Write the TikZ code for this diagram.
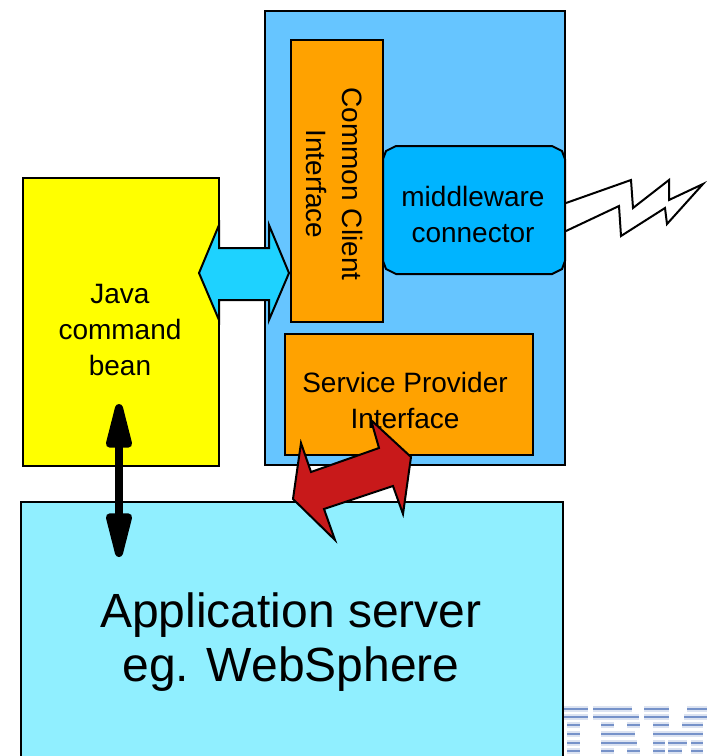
\documentclass[tikz,border=0pt]{standalone}
\usepackage{fontspec}
\setmainfont{Liberation Sans}
\usetikzlibrary{arrows.meta}
\definecolor{outerblue}{HTML}{66C5FF}
\definecolor{ccorange}{HTML}{FFA200}
\definecolor{midblue}{HTML}{00B4FF}
\definecolor{appcyan}{HTML}{90EFFF}
\definecolor{arrowcyan}{HTML}{1ED2FF}
\definecolor{arrowred}{HTML}{C8191A}
\definecolor{ibmblue}{HTML}{3F66B4}
\definecolor{beanyellow}{HTML}{FFFF00}
\tikzset{
  x=1pt,y=-1pt,
  boxed/.style={draw=black,line width=2pt,inner sep=0pt,outer sep=0pt,anchor=north west},
  label/.style={align=center,inner sep=0pt,text=black},
  small/.style={label,font=\fontsize{28}{36}\selectfont},
  big/.style={label,font=\fontsize{48}{54}\selectfont},
  blockarrow/.style={draw=black,line width=2pt,line join=miter},
  stripe/.style={line width=2.5pt,line cap=butt,draw=ibmblue,opacity=.65},
  stripeglow/.style={line width=5.5pt,line cap=butt,draw=ibmblue,opacity=.18},
}
\begin{document}
\begin{tikzpicture}
\useasboundingbox (0,0) rectangle (707,756);
% boxes
\node[boxed,fill=outerblue,minimum width=300pt,minimum height=454pt] (outer) at (265,11) {};
\node[boxed,fill=beanyellow,minimum width=196pt,minimum height=288pt] (bean) at (23,178) {};
\node[boxed,fill=ccorange,minimum width=92pt,minimum height=282pt] (cci) at (291,40) {};
\node[boxed,fill=ccorange,minimum width=248pt,minimum height=121pt] (spi) at (285,334) {};
\node[boxed,fill=appcyan,minimum width=542pt,minimum height=262pt] (app) at (21,502) {};
% lightning
\draw[blockarrow,fill=white] (566,203) -- (631,180) -- (633,208) -- (669,180) -- (669,200) -- (703,184) -- (667,224) -- (665,208) -- (621,236) -- (619,206) -- (566,231);
% middleware
\draw[line width=2pt,fill=midblue] (396,146) -- (552,146) -- (562,151) -- (565,159) -- (565,261) -- (562,269) -- (552,274) -- (396,274) -- (386,269) -- (383,261) -- (383,159) -- (386,151) -- cycle;
\node[small] (mw) at (473,214) {middleware\\connector};
% texts
\node[small,rotate=-90] (ccit) at (335,184) {Common Client\\Interface};
\node[small] (beant) at (120,330) {Java\\command\\bean};
\node[small] (spit) at (405,400) {Service Provider\\Interface};
\node[big] (appt) at (291,642) {Application server\\eg. WebSphere};
% cyan arrow
\draw[blockarrow,fill=arrowcyan] (199,273) -- (219,225) -- (219,248) -- (269,248) -- (269,225) -- (289,273) -- (269,320) -- (269,300) -- (219,300) -- (219,320) -- cycle;
% red arrow
\draw[blockarrow,fill=arrowred] (371,420) -- (379,448) -- (311,472) -- (301,443) -- (293,499) -- (335,540) -- (324,509) -- (393,486) -- (403,514) -- (411,457) -- cycle;
% black arrow
\coordinate (beanEnd) at (119,404);
\coordinate (appEnd) at (119,557);
\draw[line width=8pt,black,{Triangle[length=58pt,width=26pt,round]}-{Triangle[length=58pt,width=26pt,round]}] (beanEnd) -- (appEnd);
% logo stripes
\foreach \y/\segs in {
 709/{564/588,593/632,644/669,687/707},
 717/{564/588,593/639,644/669,684/707},
 725/{567/580,601/614,627/640,653/669,682/703},
 734/{567/580,601/635,653/703},
 743/{567/580,601/637,653/665,668/687,691/703},
 751/{567/580,601/614,627/640,653/665,668/682,691/703}}{
  \foreach \a/\b in \segs { \draw[stripeglow] (\a,\y) -- (\b,\y); \draw[stripe] (\a,\y) -- (\b,\y); }
}
\end{tikzpicture}
\end{document}
